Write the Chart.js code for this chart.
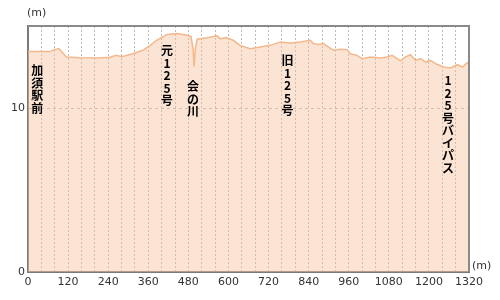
<!DOCTYPE html>
<html>
<head>
<meta charset="utf-8">
<script src="https://cdn.jsdelivr.net/npm/chart.js@4"></script>
<style>
  html, body { margin: 0; padding: 0; background: #fff; }
</style>
</head>
<body>
<canvas id="chartCanvas" width="500" height="300"></canvas>
<script>
// distance from start (m) and elevation (m)
const distances = [0, 35, 64, 80, 92, 100, 115, 155, 215, 245, 265, 280, 314, 344, 365, 385, 416, 446, 476, 488,
  494, 497, 501, 506, 536, 566, 575, 593, 614, 635, 665, 694, 725, 755, 785, 815, 845, 854, 869, 884,
  899, 914, 935, 955, 965, 985, 1000, 1025, 1055, 1075, 1090, 1105, 1115, 1130, 1145, 1160, 1175, 1190, 1205, 1220,
  1244, 1265, 1285, 1300, 1315, 1320];
const elevations = [13.45, 13.44, 13.44, 13.56, 13.62, 13.44, 13.11, 13.07, 13.05, 13.1, 13.21, 13.13, 13.31, 13.52, 13.8, 14.13, 14.48, 14.54, 14.44, 14.36,
  13.62, 12.52, 13.62, 14.19, 14.28, 14.4, 14.23, 14.29, 14.13, 13.82, 13.62, 13.72, 13.82, 14.03, 13.97, 14.03, 14.13, 13.93, 13.87, 13.93,
  13.72, 13.52, 13.58, 13.56, 13.31, 13.21, 13.01, 13.11, 13.05, 13.11, 13.21, 13.01, 12.87, 13.11, 13.25, 12.9, 13.01, 12.8, 12.9, 12.7,
  12.5, 12.44, 12.64, 12.5, 12.76, 12.8];

const xLabelValues = [0, 120, 240, 360, 480, 600, 720, 840, 960, 1080, 1200, 1320];
const yTickValues = [0, 10];

// landmarks along the route
const landmarkNames = ['加須駅前', '元125号', '会の川', '旧125号', '125号バイパス'];
const landmarkDistances = [28, 416, 494, 777, 1257];
const landmarkTops = [12.27, 13.5, 11.29, 12.88, 11.66];

const points = distances.map((d, i) => ({ x: d, y: elevations[i] }));

const frame = {
  id: 'frame',
  afterDraw(chart) {
    const { ctx, chartArea: a, scales } = chart;
    ctx.save();
    ctx.strokeStyle = '#8a8a8a';
    ctx.lineWidth = 2;
    ctx.beginPath();
    ctx.moveTo(a.left, a.top);
    ctx.lineTo(a.right, a.top);
    ctx.lineTo(a.right, a.bottom);
    ctx.stroke();

    ctx.fillStyle = '#333';
    ctx.font = '11px "DejaVu Sans"';
    ctx.textBaseline = 'middle';
    ctx.textAlign = 'left';
    ctx.fillText('(m)', 27, 13);
    ctx.fillText('(m)', a.right + 3, a.bottom - 6);

    ctx.fillStyle = '#000';
    ctx.font = 'bold 12px "Noto Sans CJK JP"';
    ctx.textAlign = 'center';
    landmarkNames.forEach((name, i) => {
      const x = scales.x.getPixelForValue(landmarkDistances[i]);
      let y = scales.y.getPixelForValue(landmarkTops[i]);
      for (const ch of name) {
        ctx.fillText(ch, x, y);
        y += 12.5;
      }
    });
    ctx.restore();
  }
};

new Chart(document.getElementById('chartCanvas'), {
  type: 'line',
  data: {
    datasets: [{
      data: points,
      borderColor: '#f3b88c',
      borderWidth: 1.5,
      backgroundColor: 'rgba(249, 196, 160, 0.45)',
      fill: 'origin',
      pointRadius: 0,
      tension: 0
    }]
  },
  options: {
    responsive: false,
    animation: false,
    layout: { padding: { top: 26, right: 31, left: 0, bottom: 0 } },
    plugins: { legend: { display: false }, tooltip: { enabled: false } },
    scales: {
      x: {
        type: 'linear',
        min: 0,
        max: 1320,
        afterFit: axis => { axis.height = 28; },
        ticks: {
          stepSize: 40,
          autoSkip: false,
          maxRotation: 0,
          padding: 4,
          color: '#333',
          font: { family: 'DejaVu Sans', size: 11 },
          callback: v => xLabelValues.includes(v) ? String(v) : ''
        },
        grid: {
          drawTicks: false,
          color: c => (c.tick && c.tick.value === 0) ? 'rgba(0,0,0,0)' : '#b8b8b8',
          lineWidth: 1
        },
        border: { color: '#7a7a7a', width: 2, dash: [2, 2] }
      },
      y: {
        min: 0,
        max: 15,
        afterFit: axis => { axis.width = 28; },
        afterBuildTicks: axis => { axis.ticks = yTickValues.map(v => ({ value: v })); },
        ticks: {
          padding: 3,
          color: '#333',
          font: { family: 'DejaVu Sans', size: 11 }
        },
        grid: {
          drawTicks: false,
          color: c => (c.tick && c.tick.value === 0) ? 'rgba(0,0,0,0)' : '#b8b8b8',
          lineWidth: 1
        },
        border: { color: '#7a7a7a', width: 2, dash: [3, 3] }
      }
    }
  },
  plugins: [frame]
});
</script>
</body>
</html>
